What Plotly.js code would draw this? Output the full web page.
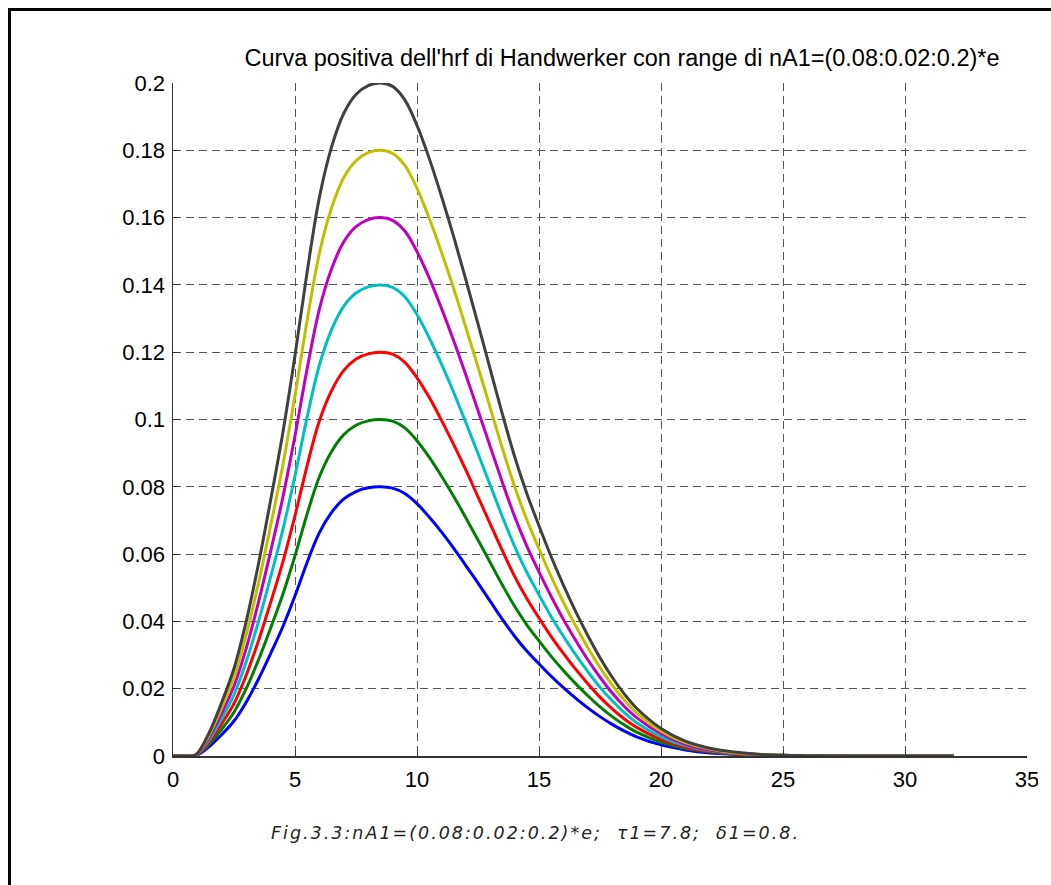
<!DOCTYPE html>
<html>
<head>
<meta charset="utf-8">
<script src="https://cdn.plot.ly/plotly-3.0.1.min.js"></script>
<style>
  html, body { margin: 0; padding: 0; background: #fff; }
  #wrap { position: absolute; left: 0; top: 0; width: 1038px; height: 885px; overflow: hidden; }
  #plot { width: 1051px; height: 885px; }
  #frame { position: absolute; left: 8px; top: 8px; width: 1100px; height: 1000px;
           border-left: 3px solid #000; border-top: 3px solid #000; pointer-events: none; }
</style>
</head>
<body>
<div id="wrap"><div id="plot"></div></div>
<div id="frame"></div>
<script>
// time axis (s)
const t = [0, 0.5, 0.8, 1, 1.5, 2, 2.5, 3, 3.5, 4, 4.5, 5, 5.5, 6, 6.5, 7, 7.5, 8, 8.5, 9, 9.5, 10, 10.5, 11, 11.5, 12, 12.5, 13, 13.5, 14, 14.5, 15, 15.5, 16, 16.5, 17, 17.5, 18, 18.5, 19, 20, 21, 22, 23, 24, 25, 26, 28, 32];

// series labels (nA1 values, times e)
const seriesNames = ["nA1=0.08*e", "nA1=0.10*e", "nA1=0.12*e", "nA1=0.14*e", "nA1=0.16*e", "nA1=0.18*e", "nA1=0.20*e"];

const hrf008 = [0,0,0,0.0003,0.0029,0.0064,0.0104,0.016,0.0228,0.0304,0.0384,0.0476,0.0576,0.0664,0.0724,0.0764,0.0786,0.0797,0.08,0.0796,0.078,0.075,0.071,0.0666,0.0618,0.0566,0.0514,0.046,0.0406,0.0356,0.0312,0.0274,0.0237,0.0203,0.0172,0.0143,0.0117,0.0094,0.0074,0.0057,0.0033,0.0018,0.0009,0.0005,0.0002,0.0001,0,0,0];
const hrf010 = [0,0,0,0.0004,0.0036,0.008,0.013,0.02,0.0285,0.038,0.048,0.0595,0.072,0.083,0.0905,0.0955,0.0983,0.0996,0.1,0.0995,0.0975,0.0937,0.0888,0.0832,0.0772,0.0708,0.0642,0.0575,0.0508,0.0445,0.039,0.0342,0.0296,0.0254,0.0215,0.0179,0.0146,0.0117,0.0092,0.0071,0.0041,0.0022,0.0012,0.0006,0.0003,0.0001,0,0,0];
const hrf012 = [0,0,0,0.0005,0.0043,0.0096,0.0156,0.024,0.0342,0.0456,0.0576,0.0714,0.0864,0.0996,0.1086,0.1146,0.118,0.1195,0.12,0.1194,0.117,0.1124,0.1066,0.0998,0.0926,0.085,0.077,0.069,0.061,0.0534,0.0468,0.041,0.0355,0.0305,0.0258,0.0215,0.0175,0.014,0.011,0.0085,0.0049,0.0026,0.0014,0.0007,0.0003,0.0001,0,0,0];
const hrf014 = [0,0,0,0.0006,0.005,0.0112,0.0182,0.028,0.0399,0.0532,0.0672,0.0833,0.1008,0.1162,0.1267,0.1337,0.1376,0.1394,0.14,0.1393,0.1365,0.1312,0.1243,0.1165,0.1081,0.0991,0.0899,0.0805,0.0711,0.0623,0.0546,0.0479,0.0414,0.0356,0.0301,0.0251,0.0204,0.0164,0.0129,0.0099,0.0057,0.0031,0.0016,0.0008,0.0004,0.0002,0.0001,0,0];
const hrf016 = [0,0,0,0.0006,0.0058,0.0128,0.0208,0.032,0.0456,0.0608,0.0768,0.0952,0.1152,0.1328,0.1448,0.1528,0.1573,0.1594,0.16,0.1592,0.156,0.1499,0.1421,0.1331,0.1235,0.1133,0.1027,0.092,0.0813,0.0712,0.0624,0.0547,0.0474,0.0406,0.0344,0.0286,0.0234,0.0187,0.0147,0.0114,0.0066,0.0035,0.0018,0.0009,0.0004,0.0002,0.0001,0,0];
const hrf018 = [0,0,0,0.0007,0.0065,0.0144,0.0234,0.036,0.0513,0.0684,0.0864,0.1071,0.1296,0.1494,0.1629,0.1719,0.1769,0.1793,0.18,0.1791,0.1755,0.1687,0.1598,0.1498,0.139,0.1274,0.1156,0.1035,0.0914,0.0801,0.0702,0.0616,0.0533,0.0457,0.0387,0.0322,0.0263,0.0211,0.0166,0.0128,0.0074,0.004,0.0021,0.001,0.0005,0.0002,0.0001,0,0];
const hrf020 = [0,0,0,0.0008,0.0072,0.016,0.026,0.04,0.057,0.076,0.096,0.119,0.144,0.166,0.181,0.191,0.1966,0.1992,0.2,0.199,0.195,0.1874,0.1776,0.1664,0.1544,0.1416,0.1284,0.115,0.1016,0.089,0.078,0.0684,0.0592,0.0508,0.043,0.0358,0.0292,0.0234,0.0184,0.0142,0.0082,0.0044,0.0023,0.0012,0.0005,0.0002,0.0001,0,0];

const seriesValues = [hrf008, hrf010, hrf012, hrf014, hrf016, hrf018, hrf020];
const seriesColors = ["#0000ff", "#008000", "#ff0000", "#00bfbf", "#bf00bf", "#bfbf00", "#404040"];

const xTicks = [0, 5, 10, 15, 20, 25, 30, 35];
const yTicks = [0, 0.02, 0.04, 0.06, 0.08, 0.1, 0.12, 0.14, 0.16, 0.18, 0.2];
const yTickText = ["0", "0.02", "0.04", "0.06", "0.08", "0.1", "0.12", "0.14", "0.16", "0.18", "0.2"];

const titleText = "Curva positiva dell'hrf di Handwerker con range di nA1=(0.08:0.02:0.2)*e";
const captionText = "Fig.3.3:nA1=(0.08:0.02:0.2)*e;  \u03c41=7.8;  \u03b41=0.8.";

const traces = seriesValues.map((v, i) => ({
  x: t, y: v, type: "scatter", mode: "lines", name: seriesNames[i],
  line: { color: seriesColors[i], width: 3, shape: "spline", smoothing: 1 },
  hoverinfo: "skip"
}));

const axFont = { family: "Liberation Sans, Arial, sans-serif", size: 22, color: "#000" };

const layout = {
  width: 1051, height: 885,
  margin: { l: 173, r: 24, t: 83, b: 129 },
  paper_bgcolor: "#fff", plot_bgcolor: "#fff",
  showlegend: false,
  title: {
    text: titleText,
    font: { family: "Liberation Sans, Arial, sans-serif", size: 23.5, color: "#000" },
    x: 0.5258, xref: "paper", xanchor: "center",
    y: 1 - 58 / 885, yref: "container", yanchor: "middle"
  },
  xaxis: {
    range: [0, 35], tickvals: xTicks, ticktext: xTicks.map(String),
    showgrid: true, gridcolor: "#555", griddash: "8px,5px", gridwidth: 1,
    showline: true, linecolor: "#333", linewidth: 1.5, mirror: false,
    ticks: "inside", ticklen: 6, tickcolor: "#333",
    zeroline: false, tickfont: axFont, ticklabelstandoff: 3
  },
  yaxis: {
    range: [0, 0.2], tickvals: yTicks, ticktext: yTickText,
    showgrid: true, gridcolor: "#555", griddash: "8px,5px", gridwidth: 1,
    showline: true, linecolor: "#333", linewidth: 1.5, mirror: false,
    ticks: "inside", ticklen: 6, tickcolor: "#333",
    zeroline: false, tickfont: axFont, ticklabelstandoff: 2
  },
  annotations: [{
    text: captionText, xref: "paper", yref: "paper",
    x: (535 - 173) / 854, y: (756 - 833) / 673, xanchor: "center", yanchor: "middle",
    showarrow: false,
    font: { family: "DejaVu Sans, sans-serif", size: 17.5, color: "#222", style: "italic" }
  }]
};

Plotly.newPlot("plot", traces, layout, { displayModeBar: false, staticPlot: true }).then(gd => {
  gd.querySelectorAll(".annotation-text").forEach(el => {
    el.setAttribute("letter-spacing", "2px");
    el.style.letterSpacing = "2px";
  });
});
</script>
</body>
</html>
